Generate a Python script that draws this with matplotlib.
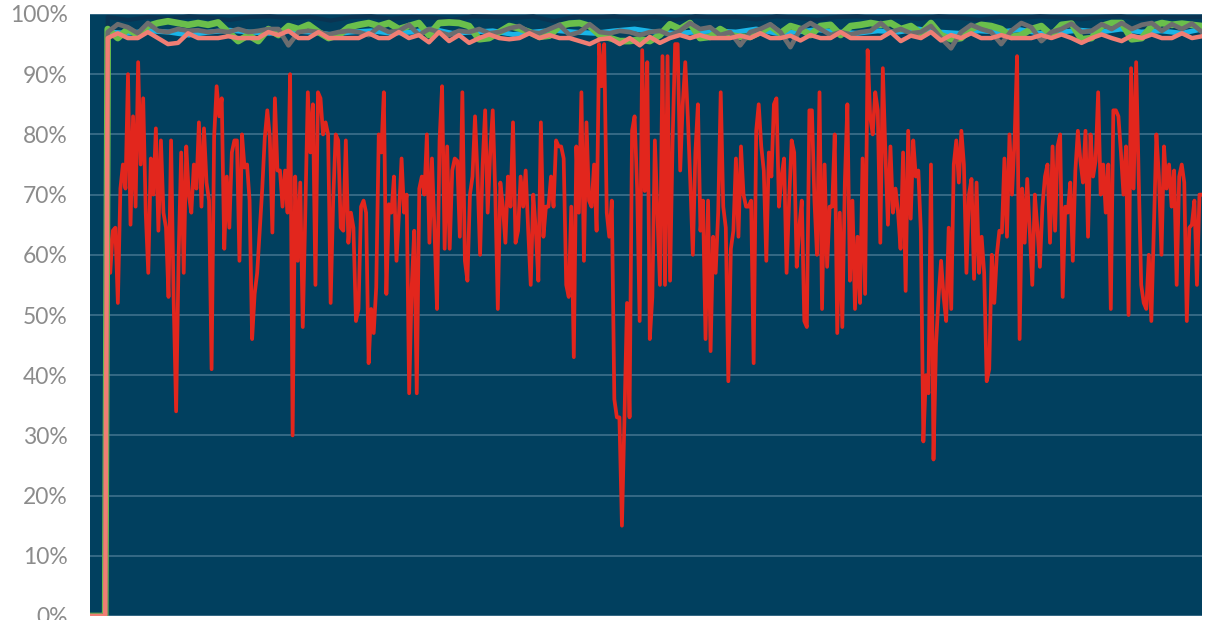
import numpy as np
import matplotlib
matplotlib.use("Agg")
import matplotlib.pyplot as plt

# leading samples before the series start (all zero)
lead = 7

red = [
    65, 57, 64, 64.5, 52, 71, 75, 71, 90, 65, 83, 68, 92, 75, 86, 67, 57, 76, 70, 81,
    64, 79, 67, 64.5, 53, 79, 53, 34, 60, 77, 57, 78, 70, 67, 75, 71, 82, 68, 81, 72,
    69, 41, 79.5, 88, 83, 86, 61, 73, 64.5, 77, 79, 79, 59, 80, 74.5, 75, 69, 46,
    53.5, 57, 64, 71, 79.5, 84, 79.5, 63.7, 86, 74, 74, 68, 74, 67, 90, 30, 73, 59, 72, 48,
    67, 87, 77, 85, 55, 87, 86, 80, 82, 80, 52, 69, 80, 79, 64.5, 64, 79, 62, 67, 64.5,
    49, 51, 68, 69, 67, 42, 51, 47, 54.6, 80, 77, 87, 53.5, 68.4, 67, 73, 59, 67, 76, 67,
    70, 37, 54.6, 64, 37,
    71, 73, 70, 80, 62, 76, 64, 51, 79, 88, 61, 78, 61, 74, 76, 75.6, 63, 87, 59, 55.7,
    70, 73, 83, 73, 60, 75, 84, 67, 77, 84, 70, 51, 72, 68, 62, 73, 68, 82, 62, 64,
    73, 68, 74, 64, 55, 70, 64, 55.7, 82, 63, 68, 68, 73, 68, 79, 78, 78, 76, 55, 53, 68, 43,
    78, 67, 87, 59, 82, 69, 68, 75, 64, 95, 88, 95, 67, 63, 69, 36, 33, 33, 15, 33,
    52, 33, 80.6, 83, 71, 49, 94, 70.6, 92, 46, 53, 79, 67, 55, 93, 55, 93, 55.7, 79, 95,
    95, 74, 85, 92, 83, 72, 60, 77, 85, 64, 69, 46, 69, 44, 63, 57, 67, 87, 68,
    64.5, 39, 61, 64, 76, 63, 78, 70, 68, 68, 69, 42, 80.6, 85, 78, 74, 59, 77, 73, 85,
    86, 68, 73, 76, 57, 69, 79, 77, 58, 64.5, 69, 49, 48, 84, 84, 69, 60, 87, 51, 75,
    58, 68, 68, 80, 47, 67, 48, 72, 85, 55.7, 69, 51, 63, 52, 76, 53.5, 94, 83, 80, 87,
    84, 62, 91, 77,
    65, 78, 67, 71, 67, 61, 77, 54, 80.6, 66, 79, 73, 74, 64, 29, 40, 37, 75, 26, 45,
    53, 59, 53, 49, 64.5, 51, 75, 79, 72, 80.6, 75, 57, 70, 72.6, 56, 72, 57, 63, 57, 39,
    41, 60, 52, 60, 64, 63.7, 76, 63, 80, 70, 79, 93, 46, 71, 62, 72.6, 64, 55, 70, 64.5,
    58, 68,
    73, 75, 62, 78, 64, 78, 80, 53, 68, 67, 72, 59, 74, 80.6, 75.6, 72, 80.6, 63, 80, 73,
    75.6, 87, 70, 75, 67, 75, 51, 84, 84, 83, 77, 70, 78, 50, 91, 71, 92, 73, 55, 52,
    51, 60, 49, 64.5, 80, 73, 60, 78, 71, 75, 68, 74, 55, 73, 75, 72, 49, 64.5, 65, 69,
    55, 70, 70,
]

navy = [
    99.5, 99, 99.5, 99.2, 99.6, 99.4, 99, 99.5, 99.6, 99.3, 99.5, 98.9, 99.5, 99.6, 99.2,
    99.5, 99.4, 99, 99.6, 99.5, 99.3, 99.6, 98.8, 99.5, 99.4, 99.6, 99.2, 99.5, 99, 99.6,
    99.4, 99.5, 99.1, 99.6, 99.4, 99, 99.5, 99.6, 99.3, 99.5, 99.2, 99.6, 99.4, 99, 99.5,
    99.3, 99.6, 99.4, 99.1, 99.5, 99.6, 99.2, 99.5, 99.4, 99.5,
]

cyan = [
    97, 96.8, 97.2, 97, 96.5, 97, 97.3, 97, 96.8, 97.2, 97, 96.6, 97, 97.2, 96.8,
    97, 97.5, 96.8, 97, 97.2, 96.6, 97, 97.3, 97, 96.8, 97.2, 97.5, 97, 96.8, 97,
    97.2, 97, 97.5, 96.8, 97, 97.4, 97, 96.8, 97.2, 97, 97.5, 97, 96.8, 97.2, 97,
    97.4, 96.8, 97, 97.3, 97, 97.5, 97, 97.2, 96.8, 97.5,
]

green = [
    97.5, 96, 97.5, 96.5, 98, 98.5, 98.8, 98.5, 98.2, 98.5, 98.2, 98.6, 97, 95.5, 96.5,
    95.5, 97.5, 96.5, 98, 97.5, 98.2, 97, 96, 96.5, 97.8, 98.2, 98.5, 98, 98.5, 97.5,
    98, 98.5, 96.5, 98.5, 98.6, 98.5, 98, 95.8, 96, 97, 98, 97.6, 97, 96.2, 96.4,
    98, 98.4, 98.5, 98, 96.5, 96, 95.5, 95.5, 95.8, 95.5, 96.5, 98.3, 97.5, 98.5, 96,
    96.2, 97.5, 96.5, 96.2, 96.2, 97, 98, 96.8, 98, 97.5, 96.5, 98, 98.2, 96.5, 98,
    98.2, 98.5, 98.2, 98.5, 97.5, 98, 96.8, 98.5, 96.5, 95.8, 96, 97.5, 98.2, 98, 97.5,
    96.2, 96.5, 97.5, 98, 96.5, 98.2, 98.4, 95.8, 96, 98, 98.5, 98.5, 95.8, 96, 98,
    98.5, 98.2, 98.4, 98.2, 98,
]

gray = [
    97, 98.3, 97.8, 96.8, 98.5, 97.2, 97, 97.5, 97.2, 97.3, 97, 97.2, 97, 97.5, 97,
    97.2, 97.5, 97.5, 94.8, 97, 97.2, 97, 96.6, 97, 97.2, 97, 96.5, 97.8, 97, 97.2,
    98.2, 96.5, 97.5, 97, 96.5, 97.2, 97, 97.5, 96.8, 97, 97.6, 98, 97, 96.8, 97.5,
    98.2, 96.5, 97, 98.3, 97, 96.8, 97.2, 97, 96.5, 97, 97.2, 96.5, 97.2, 98.5, 97.5,
    97.8, 96.5, 97, 94.8, 97, 97.5, 98.3, 97, 94.5, 97.5, 98.5, 97.5, 96.5, 97, 96.6,
    97, 97.2, 98.5, 97, 97.5, 96.8, 97, 98, 96, 94.3, 97, 98.2, 97.5, 97, 95,
    97.2, 98.5, 97.8, 95.5, 97, 97.5, 98.4, 97, 97.2, 98.3, 97.5, 98.5, 97.5, 98.2, 98.5,
    97.2, 98.3, 97.5, 98.4, 97,
]

pink = [
    96, 96.8, 96, 96, 97, 96, 95, 95.2, 96.8, 96, 96, 96, 96.3, 96, 96,
    96, 97, 96.5, 97.2, 96, 96, 97, 96, 96, 96, 96, 96.8, 96, 96, 97,
    96, 96.5, 95.3, 97, 95.5, 96.5, 95.2, 96, 96.6, 96, 95.8, 96, 96.8, 96, 96.5,
    96, 96, 95.5, 95, 95.8, 96, 95, 96, 94.8, 96.2, 95.2, 96, 96.5, 96, 96.5,
    96, 96, 96, 96.4, 96, 96.8, 96, 96, 96.4, 95.6, 96.5, 96, 96, 97, 96,
    96, 96, 96, 97, 95.5, 96.4, 96, 97, 95.6, 96.5, 96, 96.8, 96, 96, 96.5,
    96, 96, 96, 96.5, 96, 96.6, 96, 95.2, 96, 96.6, 96, 95.5, 96.4, 96, 96.6,
    96, 96, 96.8, 96, 96.3,
]

yticks = list(range(0, 101, 10))
ylabels = [f"{t}%" for t in yticks]

n_total = lead + len(red)


def series_xy(vals):
    x = np.concatenate([np.arange(lead), np.linspace(lead, n_total - 1, len(vals))])
    y = np.concatenate([np.zeros(lead), vals])
    return x, y


fig = plt.figure(figsize=(12.08, 6.2), dpi=100)
ax = fig.add_axes([90 / 1208, 4 / 620, 1112 / 1208, 602 / 620])
ax.set_facecolor("#01405f")

ax.plot(np.arange(n_total), np.concatenate([np.zeros(lead), red]),
        color="#e2261d", lw=2.7, zorder=3)
for vals, col, lw in [(navy, "#0a3452", 3.0), (cyan, "#19b5e8", 3.6),
                      (green, "#6abf4b", 4.8), (gray, "#6c6d6f", 3.4),
                      (pink, "#f07e74", 3.2)]:
    x, y = series_xy(vals)
    ax.plot(x, y, color=col, lw=lw, zorder=4, solid_joinstyle="round")

ax.set_xlim(0, n_total - 1)
ax.set_ylim(0, 100)
ax.set_xticks([])
ax.set_yticks(yticks)
ax.set_yticklabels(ylabels, fontfamily="Lato", fontweight="normal",
                   fontsize=16.5, color="#8c8c8c")
ax.tick_params(axis="y", length=0, pad=16)
ax.grid(axis="y", color="#3a6d88", lw=1.3, zorder=1)
ax.set_axisbelow(True)
for s in ax.spines.values():
    s.set_visible(False)

fig.savefig("out.png", dpi=100)
